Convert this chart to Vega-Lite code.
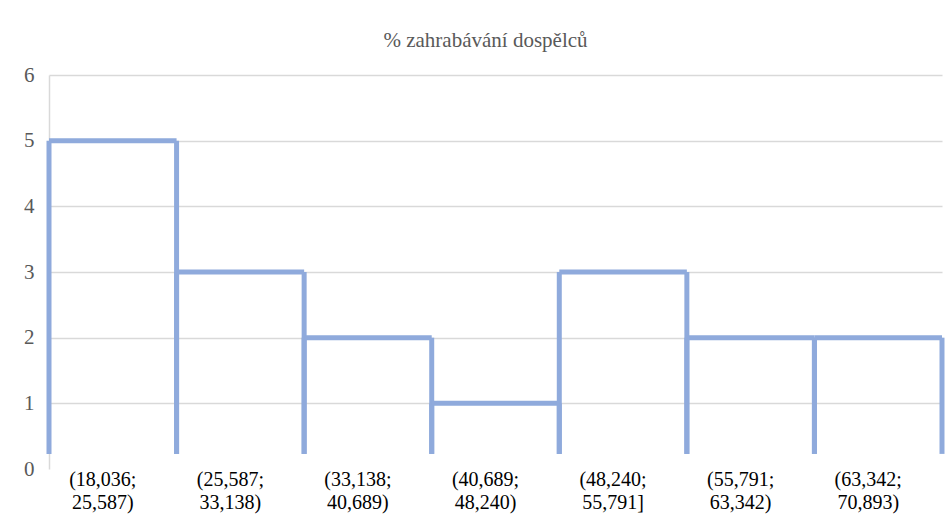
{
  "$schema": "https://vega.github.io/schema/vega-lite/v6.json",
  "width": 893,
  "height": 394,
  "autosize": "none",
  "padding": {"left": 49, "top": 75, "right": 7, "bottom": 48},
  "background": "white",
  "title": {
    "text": "% zahrabávání dospělců",
    "font": "Liberation Serif",
    "fontSize": 21,
    "fontWeight": "normal",
    "color": "#595959",
    "anchor": "middle",
    "offset": 13,
    "dx": -10
  },
  "config": {
    "view": {"stroke": null},
    "axisX": {
      "title": null,
      "labelAngle": 0,
      "labelFont": "Liberation Serif",
      "labelFontSize": 20,
      "labelColor": "#000000",
      "labelLineHeight": 23,
      "labelPadding": 0,
      "labelOffset": -10,
      "ticks": false,
      "domain": false
    },
    "axisY": {
      "title": null,
      "labelFont": "Liberation Serif",
      "labelFontSize": 21,
      "labelColor": "#595959",
      "labelPadding": 15,
      "ticks": false,
      "domain": true,
      "domainColor": "#d9d9d9",
      "domainWidth": 1.5,
      "gridColor": "#d9d9d9",
      "gridWidth": 1.5
    }
  },
  "data": {
    "values": [
      {"label": "(18,036; 25,587)", "count": 5},
      {"label": "(25,587; 33,138)", "count": 3},
      {"label": "(33,138; 40,689)", "count": 2},
      {"label": "(40,689; 48,240)", "count": 1},
      {"label": "(48,240; 55,791]", "count": 3},
      {"label": "(55,791; 63,342)", "count": 2},
      {"label": "(63,342; 70,893)", "count": 2}
    ]
  },
  "layer": [
    {
      "mark": {"type": "rule", "color": "#8FAADC", "strokeWidth": 5, "strokeCap": "butt"},
      "encoding": {
        "x": {
          "field": "label", "type": "nominal", "sort": null, "bandPosition": 0,
          "scale": {"paddingInner": 0, "paddingOuter": 0},
          "axis": {"labelExpr": "split(datum.label, ' ')"}
        },
        "y": {
          "field": "count", "type": "quantitative",
          "scale": {"domain": [0, 6]},
          "axis": {
            "values": [0, 1, 2, 3, 4, 5, 6],
            "gridOpacity": {"condition": {"test": "datum.value === 0", "value": 0}, "value": 1}
          }
        },
        "y2": {"datum": 0.23}
      }
    },
    {
      "mark": {"type": "rule", "color": "#8FAADC", "strokeWidth": 5, "strokeCap": "butt"},
      "encoding": {
        "x": {"field": "label", "type": "nominal", "sort": null, "bandPosition": 1, "axis": {"labelExpr": "split(datum.label, ' ')"}},
        "y": {"field": "count", "type": "quantitative", "axis": {"values": [0, 1, 2, 3, 4, 5, 6], "gridOpacity": {"condition": {"test": "datum.value === 0", "value": 0}, "value": 1}}},
        "y2": {"datum": 0.23}
      }
    },
    {
      "mark": {"type": "bar", "fill": null, "fillOpacity": 0, "stroke": "#8FAADC", "strokeWidth": 5, "strokeJoin": "miter"},
      "encoding": {
        "x": {"field": "label", "type": "nominal", "sort": null, "axis": {"labelExpr": "split(datum.label, ' ')"}},
        "y": {"field": "count", "type": "quantitative", "axis": {"values": [0, 1, 2, 3, 4, 5, 6], "gridOpacity": {"condition": {"test": "datum.value === 0", "value": 0}, "value": 1}}},
        "y2": {"field": "count"}
      }
    }
  ]
}
